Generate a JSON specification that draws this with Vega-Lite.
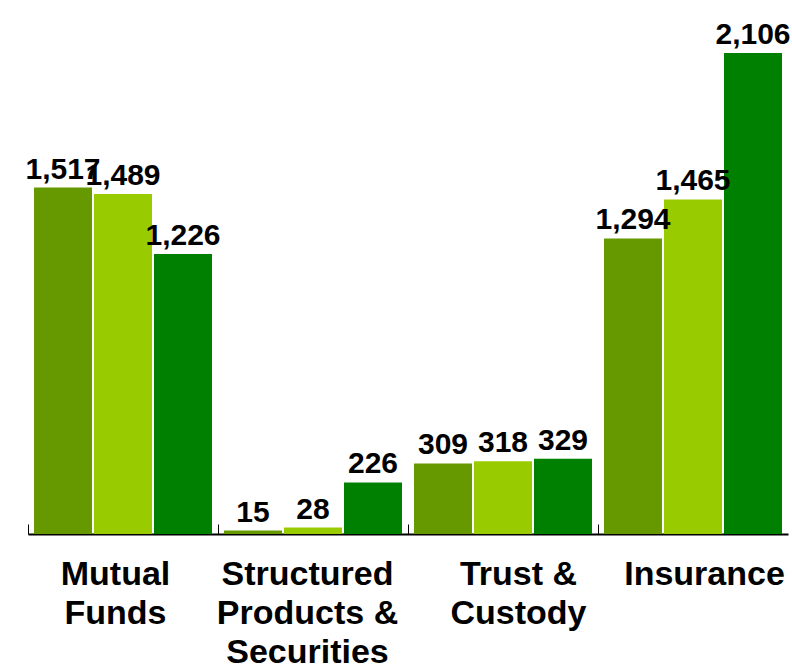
{
  "$schema": "https://vega.github.io/schema/vega-lite/v6.json",
  "width": 760,
  "height": 534,
  "autosize": "none",
  "padding": {"left": 28, "top": 0, "right": 4, "bottom": 137},
  "background": "white",
  "config": {"view": {"stroke": null}, "font": "Liberation Sans"},
  "data": {
    "values": [
      {"category": "Mutual Funds", "series": "Y1", "value": 1517},
      {"category": "Mutual Funds", "series": "Y2", "value": 1489},
      {"category": "Mutual Funds", "series": "Y3", "value": 1226},
      {"category": "Structured Products & Securities", "series": "Y1", "value": 15},
      {"category": "Structured Products & Securities", "series": "Y2", "value": 28},
      {"category": "Structured Products & Securities", "series": "Y3", "value": 226},
      {"category": "Trust & Custody", "series": "Y1", "value": 309},
      {"category": "Trust & Custody", "series": "Y2", "value": 318},
      {"category": "Trust & Custody", "series": "Y3", "value": 329},
      {"category": "Insurance", "series": "Y1", "value": 1294},
      {"category": "Insurance", "series": "Y2", "value": 1465},
      {"category": "Insurance", "series": "Y3", "value": 2106}
    ]
  },
  "encoding": {
    "x": {
      "field": "category",
      "type": "nominal",
      "sort": ["Mutual Funds", "Structured Products & Securities", "Trust & Custody", "Insurance"],
      "scale": {"paddingInner": 0, "paddingOuter": 0},
      "axis": {
        "title": null,
        "labelAngle": 0,
        "domainColor": "black",
        "domainWidth": 2,
        "tickColor": "black",
        "tickWidth": 1,
        "tickSize": -10,
        "tickOffset": -95,
        "labelOffset": {
          "condition": [
            {"test": "datum.value == 'Mutual Funds'", "value": 87},
            {"test": "datum.value == 'Structured Products & Securities'", "value": 89},
            {"test": "datum.value == 'Trust & Custody'", "value": 110}
          ],
          "value": 106
        },
        "labelFontSize": 34,
        "labelFontWeight": "bold",
        "labelColor": "black",
        "labelPadding": 33,
        "labelLineHeight": 39,
        "labelBaseline": "top",
        "labelOverlap": false,
        "labelLimit": 0,
        "labelExpr": "datum.label == 'Mutual Funds' ? ['Mutual', 'Funds'] : datum.label == 'Structured Products & Securities' ? ['Structured', 'Products &', 'Securities'] : datum.label == 'Trust & Custody' ? ['Trust &', 'Custody'] : datum.label"
      }
    },
    "xOffset": {
      "field": "series",
      "type": "nominal",
      "sort": ["Y1", "Y2", "Y3"],
      "scale": {"paddingInner": 0.0333, "paddingOuter": 0.1}
    },
    "y": {
      "field": "value",
      "type": "quantitative",
      "scale": {"domain": [0, 2338]},
      "axis": null
    }
  },
  "layer": [
    {
      "mark": {"type": "bar"},
      "encoding": {
        "color": {
          "field": "series",
          "type": "nominal",
          "scale": {"domain": ["Y1", "Y2", "Y3"], "range": ["#669900", "#99CC00", "#008000"]},
          "legend": null
        }
      }
    },
    {
      "mark": {"type": "text", "dy": -9, "fontSize": 30, "fontWeight": "bold", "baseline": "alphabetic", "color": "black"},
      "encoding": {
        "text": {"field": "value", "type": "quantitative", "format": ","}
      }
    }
  ]
}
